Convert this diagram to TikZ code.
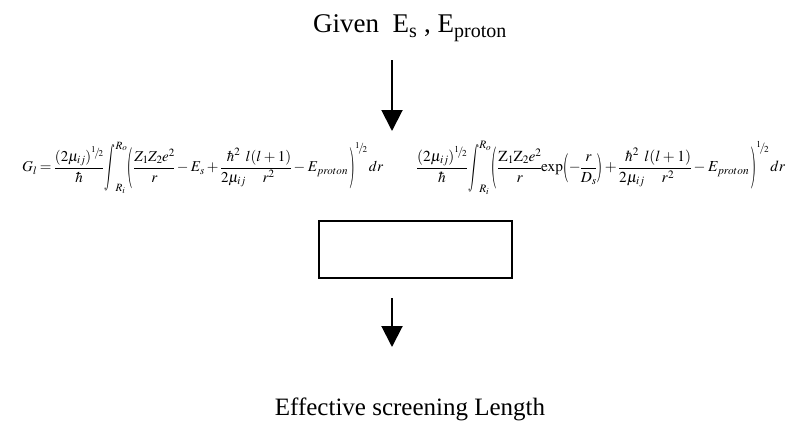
\documentclass[tikz,border=0pt]{standalone}
\usepackage{mathptmx}
\usepackage{fontspec}
\setmainfont{Liberation Serif}
\usepackage{graphicx}
\usetikzlibrary{arrows.meta}
\newcommand{\slhalf}{\mathord{\raisebox{0.5ex}{$\scriptscriptstyle 1$}\mkern-2mu\scriptstyle/\mkern-2mu\raisebox{-0.1ex}{$\scriptscriptstyle 2$}}}
\newcommand{\tallint}{\mathop{\vcenter{\hbox{\scalebox{0.8}[1.55]{$\displaystyle\int$}}}}\nolimits}
\newcommand{\BL}{\mathopen{\vcenter{\hbox{\scalebox{1}[2.75]{$($}}}}}
\newcommand{\BR}{\mathclose{\vcenter{\hbox{\scalebox{1}[2.75]{$)$}}}}}
\newcommand{\ML}{\mathopen{\vcenter{\hbox{\scalebox{1}[1.9]{$($}}}}}
\newcommand{\MR}{\mathclose{\vcenter{\hbox{\scalebox{1}[1.9]{$)$}}}}}
\newcommand{\eqset}{\fontsize{20}{24}\selectfont\medmuskip=3mu\thickmuskip=4mu\nulldelimiterspace=0pt\scriptspace=0pt}
\tikzset{
  flowarrow/.style={line width=2pt,-{Triangle[width=21pt,length=21pt]}},
  bigtext/.style={font=\fontsize{27}{30}\selectfont,inner sep=0pt},
  eqnode/.style={inner sep=0pt,anchor=west},
  emptybox/.style={draw,line width=2pt,minimum width=193pt,minimum height=57pt,inner sep=0pt}
}
\begin{document}
\begin{tikzpicture}[x=1pt,y=-1pt]
\useasboundingbox (0,0) rectangle (802,428);
\node[bigtext,anchor=base] (given) at (410,33) {Given\ \ E\textsubscript{s} , E\textsubscript{proton}};
\coordinate (a1s) at (392,60);
\coordinate (a1e) at (392,131);
\draw[flowarrow] (a1s) -- (a1e);
\node[eqnode] (eqL) at (22,168) {\resizebox{361pt}{!}{\eqset$\displaystyle G_l=\frac{(2\mu_{ij})^{\slhalf}}{\hbar}\tallint_{R_i}^{R_o}\BL\,\frac{Z_1Z_2e^2}{r}-E_s+\frac{\hbar^2}{2\mu_{ij}}\frac{l(l+1)}{r^2}-E_{proton}\,\BR^{\slhalf}\,dr$}};
\node[eqnode] (eqR) at (417,168) {\resizebox{368pt}{!}{\eqset$\displaystyle \frac{(2\mu_{ij})^{\slhalf}}{\hbar}\tallint_{R_i}^{R_o}\BL\,\frac{\mathrm{Z}_1\mathrm{Z}_2e^2}{r}\mathrm{exp}\ML-\frac{r}{D_s}\MR+\frac{\hbar^2}{2\mu_{ij}}\frac{l(l+1)}{r^2}-E_{proton}\,\BR^{\slhalf}\,dr$}};
\node[emptybox] (box) at (415.5,249.5) {};
\coordinate (a2s) at (392,298);
\coordinate (a2e) at (392,347);
\draw[flowarrow] (a2s) -- (a2e);
\node[bigtext,anchor=base,font=\fontsize{25}{28}\selectfont] (eff) at (410,415) {Effective screening Length};
\end{tikzpicture}
\end{document}
